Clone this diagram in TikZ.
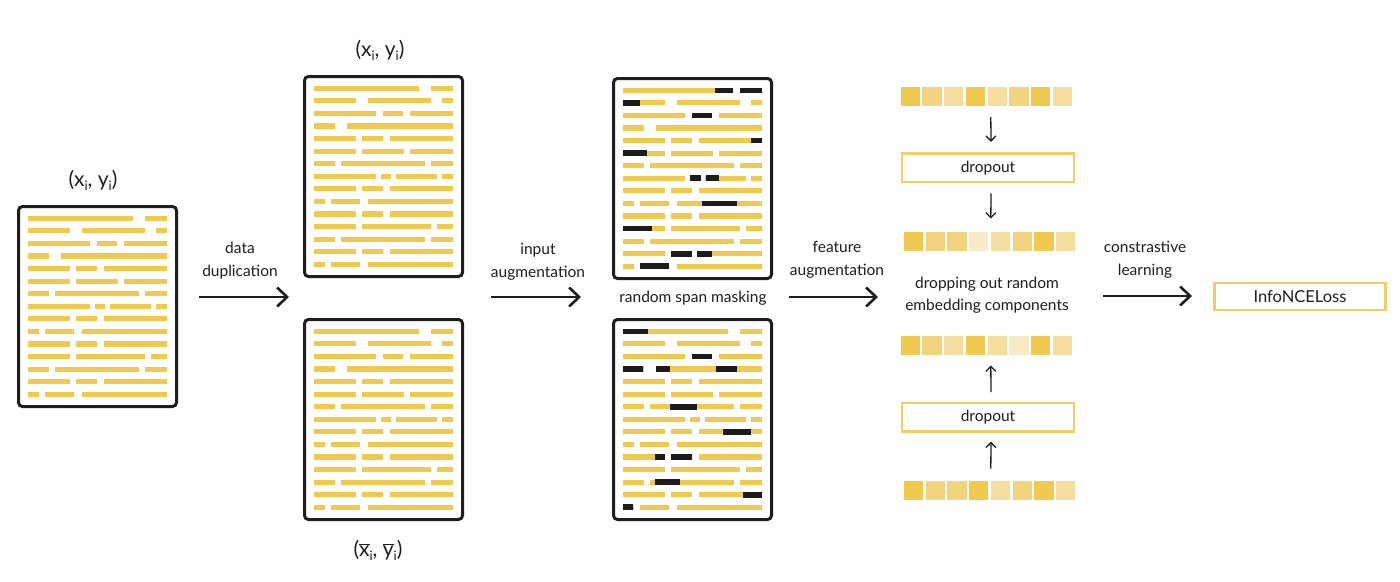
\documentclass[tikz,border=0pt]{standalone}
\usepackage{fontspec}
\setmainfont{Lato}
\usetikzlibrary{arrows.meta}
\definecolor{barY}{HTML}{F0C94F}
\definecolor{maskK}{HTML}{1C1C1C}
\definecolor{sqA}{HTML}{F0C94F}
\definecolor{sqB}{HTML}{F2D47E}
\definecolor{sqC}{HTML}{F4DD9E}
\definecolor{sqD}{HTML}{F8EBC8}
\definecolor{boxY}{HTML}{EDCF6A}
\definecolor{inkK}{HTML}{1E1E1E}
\newcommand\rowsdata{{0/0.759,0.848/1},{0/0.301,0.393/0.848,0.923/1},{0/0.451,0.499/0.646,0.692/1},{0/0.149,0.241/1},{0/0.301,0.349/0.499,0.547/1},{0/0.301,0.349/0.651,0.692/1},{0/0.149,0.198/0.800,0.848/1},{0/0.451,0.487/0.559,0.590/0.891,0.923/1},{0/0.301,0.349/0.499,0.547/1},{0/0.077,0.120/0.332,0.393/1},{0/0.301,0.349/0.499,0.547/1},{0/0.301,0.349/0.848,0.887/1},{0/0.149,0.198/0.800,0.848/1},{0/0.301,0.349/0.499,0.547/1},{0/0.077,0.120/0.332,0.393/1}}
\newcommand\drawdoc[3]{%
  \node[docbox] (#1) at (#2+80.5,#3+101.5) {};
  \foreach \row [count=\r] in \rowsdata {
    \foreach \a/\b in \row {
      \fill[barY] ({#2+11+\a*138.5},{#3+13.3+(\r-1)*12.57-2.6}) rectangle ({#2+11+\b*138.5},{#3+13.3+(\r-1)*12.57+2.6});
    }
  }
}
\newcommand\drawmask[5]{%
  \fill[maskK] ({#1+11+#4*138.5},{#2+13.3+(#3-1)*12.57-2.8}) rectangle ({#1+11+#5*138.5},{#2+13.3+(#3-1)*12.57+2.8});
}
\newcommand\sqrow[4]{% name, x start, y top, colours
  \node[rowbox] (#1) at (#2+85.8,#3+9.65) {};
  \foreach \c [count=\i] in {#4} {
    \fill[\c] ({#2+(\i-1)*21.7},#3) rectangle ++(19.3,19.3);
  }
}
\newcommand\xy{(x\raisebox{-0.35ex}{\fontsize{13}{14}\selectfont i}, y\raisebox{-0.35ex}{\fontsize{13}{14}\selectfont i})}
\newcommand\xybar{($\overline{\mbox{x}}$\raisebox{-0.35ex}{\fontsize{13}{14}\selectfont i}, $\overline{\mbox{y}}$\raisebox{-0.35ex}{\fontsize{13}{14}\selectfont i})}
\begin{document}
\begin{tikzpicture}[x=1pt,y=-1pt,
  docbox/.style={draw=inkK,line width=3pt,rounded corners=4pt,minimum width=158pt,minimum height=200pt,inner sep=0pt},
  rowbox/.style={minimum width=171.6pt,minimum height=19.3pt,inner sep=0pt},
  lbl/.style={text=inkK,font=\fontsize{15.5}{23}\selectfont,align=center,inner sep=0pt},
  biglbl/.style={text=inkK,font=\fontsize{21}{24}\selectfont,inner sep=0pt},
  ybox/.style={draw=boxY,line width=2.5pt,text=inkK,font=\fontsize{15.5}{17}\selectfont,inner sep=0pt},
  bigarrow/.style={draw=inkK,line width=2.6pt,-{Straight Barb[length=10pt,width=19pt,line width=2.6pt]}},
  smallarrow/.style={draw=inkK,line width=1.3pt,-{Straight Barb[length=5pt,width=10pt,line width=1.3pt]}}]
\useasboundingbox[fill=white] (0,0) rectangle (1400,581);

% documents
\drawdoc{d1}{17}{205}
\drawdoc{d2}{303}{75}
\drawdoc{d3}{303}{318}
\drawdoc{d4}{612}{77}
\drawdoc{d5}{612}{318}

% masks, top masked document
\drawmask{612}{77}{1}{0.663}{0.793}
\drawmask{612}{77}{1}{0.844}{1}
\drawmask{612}{77}{2}{0}{0.12}
\drawmask{612}{77}{3}{0.495}{0.644}
\drawmask{612}{77}{5}{0.925}{1}
\drawmask{612}{77}{6}{0}{0.175}
\drawmask{612}{77}{8}{0.481}{0.560}
\drawmask{612}{77}{8}{0.596}{0.692}
\drawmask{612}{77}{10}{0.572}{0.825}
\drawmask{612}{77}{12}{0}{0.212}
\drawmask{612}{77}{14}{0.344}{0.495}
\drawmask{612}{77}{14}{0.534}{0.644}
\drawmask{612}{77}{15}{0.12}{0.332}
% masks, bottom masked document
\drawmask{612}{318}{1}{0}{0.183}
\drawmask{612}{318}{3}{0.495}{0.644}
\drawmask{612}{318}{4}{0}{0.147}
\drawmask{612}{318}{4}{0.240}{0.339}
\drawmask{612}{318}{4}{0.668}{0.820}
\drawmask{612}{318}{7}{0.337}{0.536}
\drawmask{612}{318}{9}{0.724}{0.921}
\drawmask{612}{318}{11}{0.228}{0.300}
\drawmask{612}{318}{11}{0.344}{0.495}
\drawmask{612}{318}{13}{0.228}{0.411}
\drawmask{612}{318}{14}{0.863}{1}
\drawmask{612}{318}{15}{0}{0.072}

% document labels
\node[biglbl] (l1) at (93,180) {\xy};
\node[biglbl] (l2) at (380,50) {\xy};
\node[biglbl] (l3) at (378,550) {\xybar};
\node[lbl] (rsm) at (693,298) {random span masking};

% main arrows
\coordinate (a1s) at (199,297); \coordinate (a1e) at (289,297);
\coordinate (a2s) at (491,297); \coordinate (a2e) at (581,297);
\coordinate (a3s) at (789,297); \coordinate (a3e) at (878,297);
\coordinate (a4s) at (1103,296); \coordinate (a4e) at (1192,296);
\draw[bigarrow] (a1s) -- (a1e);
\draw[bigarrow] (a2s) -- (a2e);
\draw[bigarrow] (a3s) -- (a3e);
\draw[bigarrow] (a4s) -- (a4e);
\node[lbl] (t1) at (240,261) {data\\duplication};
\node[lbl] (t2) at (538,262) {input\\augmentation};
\node[lbl] (t3) at (837,260) {feature\\augmentation};
\node[lbl] (t4) at (1145,260) {constrastive\\learning};

% loss
\node[ybox,font=\fontsize{16.5}{18}\selectfont,minimum width=171pt,minimum height=27pt] (loss) at (1300,296.5) {InfoNCELoss};

% embedding rows
\sqrow{e1}{900.7}{86.7}{sqA,sqB,sqC,sqA,sqC,sqB,sqA,sqC}
\sqrow{e2}{904}{231.7}{sqA,sqB,sqB,sqD,sqC,sqB,sqA,sqC}
\sqrow{e3}{900.7}{336}{sqA,sqB,sqC,sqA,sqC,sqD,sqA,sqC}
\sqrow{e4}{904}{480.7}{sqA,sqB,sqB,sqA,sqC,sqB,sqA,sqC}

\node[ybox,minimum width=172pt,minimum height=28.5pt] (drop1) at (988,167.8) {dropout};
\node[ybox,minimum width=172pt,minimum height=28.5pt] (drop2) at (988,417.2) {dropout};
\node[lbl,font=\fontsize{15.5}{22.5}\selectfont] (emb) at (987,295) {dropping out random\\embedding components};

\draw[smallarrow] ([xshift=4.3pt,yshift=-11pt]e1.south) -- ([xshift=3pt,yshift=10.5pt]drop1.north);
\draw[smallarrow] ([xshift=3pt,yshift=-10pt]drop1.south) -- ([xshift=1pt,yshift=13pt]e2.north);
\draw[smallarrow] ([xshift=3pt,yshift=9.5pt]drop2.north) -- ([xshift=4.3pt,yshift=-10pt]e3.south);
\draw[smallarrow] ([xshift=1pt,yshift=12pt]e4.north) -- ([xshift=3pt,yshift=-9pt]drop2.south);
\end{tikzpicture}
\end{document}
